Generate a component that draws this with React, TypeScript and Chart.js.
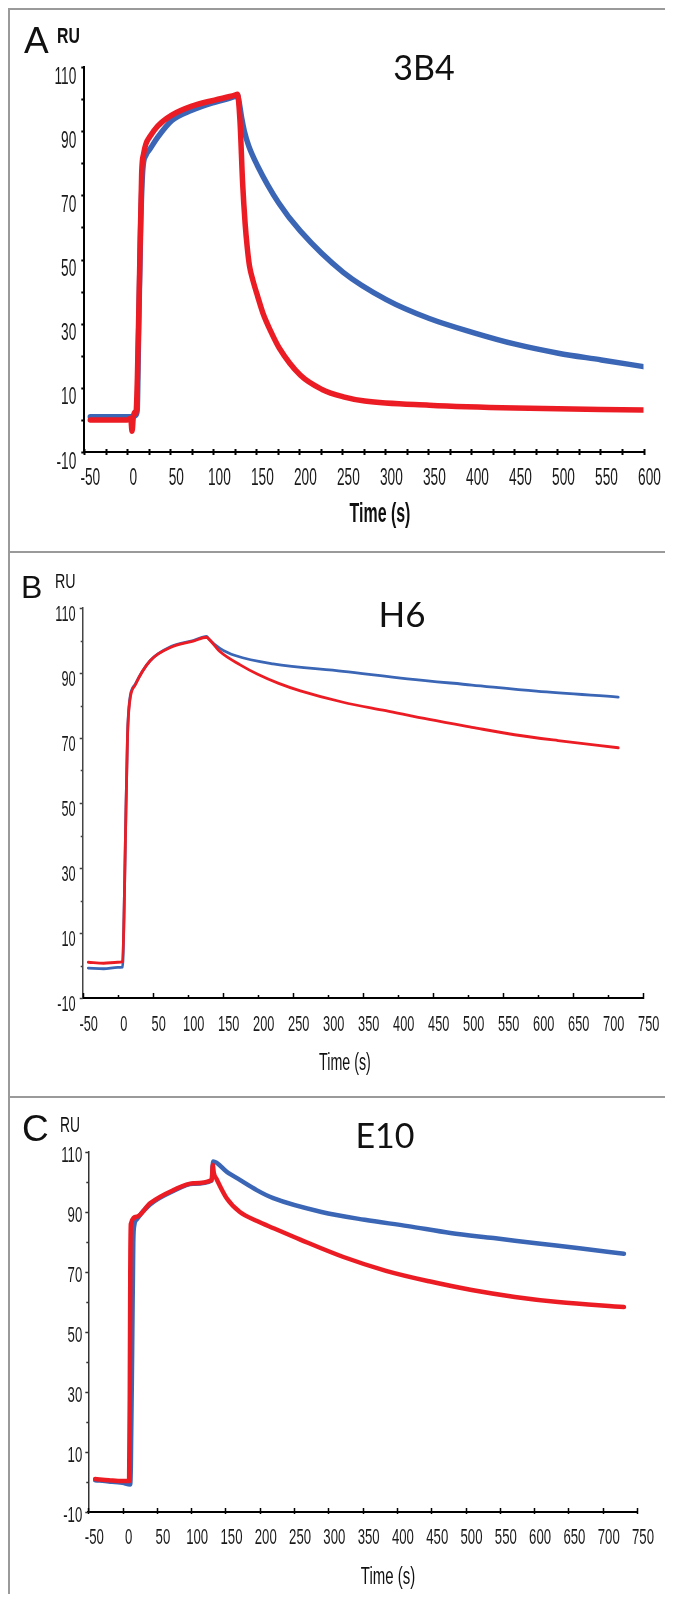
import React, { useEffect, useRef } from "react";
import { Chart, registerables } from "chart.js";

Chart.register(...registerables);

// ---------- Panel A: 3B4 ----------
const A_RED_T = [-43, -20, 0, 4, 5.5, 7, 9, 10, 11.7, 14.2, 16.7, 19, 21.6, 26.5, 35, 51.6, 75, 101.5, 125, 128, 131, 134, 137, 139.5, 142, 146, 151.4, 158, 166.4, 176.4, 201.3, 226.3, 251.2, 276, 351, 451, 600];
const A_RED_RU = [0, 0, 0, 0.5, -3.5, 1, 2.5, 2, 13, 45, 77, 83, 86, 88.4, 91.5, 95, 97.8, 99.7, 101.2, 101.5, 93, 74, 61, 53.5, 48, 43.5, 38.6, 33, 27.8, 22.5, 13.9, 9.5, 7.2, 5.9, 4.6, 3.7, 3.1];
const A_BLUE_T = [-43, -20, 0, 8, 10, 11.5, 13, 15.5, 18, 21.6, 26.5, 35, 51.6, 75, 101.5, 125, 128, 130, 133, 136, 141, 151, 176, 201, 251, 301, 351, 401, 451, 501, 551, 600];
const A_BLUE_RU = [1, 1, 1, 1.2, 1.5, 3, 25, 60, 78, 82.5, 84.5, 88, 93.3, 96.5, 99, 100.8, 101.2, 99, 94, 90, 85.5, 79.4, 67.6, 58.9, 46, 37.5, 31.6, 27.3, 23.6, 20.8, 18.7, 16.6];

// ---------- Panel B: H6 ----------
const B_RED_T = [-42, -20, 0, 7, 9, 11, 14, 17, 25, 46, 77, 108, 127, 130, 146, 175, 200, 230, 261, 322, 383, 445, 506, 567, 629, 715];
const B_RED_RU = [1, 0.7, 1, 1.2, 15, 38.6, 70.4, 81, 86.3, 93.7, 98, 99.8, 101, 100.5, 96.6, 92.5, 89.6, 86.8, 84.5, 81, 78.4, 75.7, 73.3, 71, 69.2, 67];
const B_BLUE_T = [-42, -20, 0, 7, 9, 11, 14, 17, 25, 46, 77, 108, 127, 130, 146, 169, 222, 322, 414, 506, 598, 715];
const B_BLUE_RU = [-0.8, -1, -0.6, -0.5, 15, 39, 71, 81.5, 86.5, 93.7, 98.2, 100, 101.3, 100.5, 97.6, 95.3, 92.8, 90.5, 88.2, 86.3, 84.4, 82.6];

// ---------- Panel C: E10 ----------
const C_RED_T = [-40, -20, 0, 9.5, 10.5, 11.2, 12, 20.5, 40, 74, 103, 130, 131.5, 133, 137, 152, 171, 196, 220, 259, 322, 384, 447, 509, 572, 635, 731];
const C_RED_RU = [1, 0.6, 0.3, 0.3, 30, 70, 86, 88.4, 92.9, 97.3, 99.6, 100.7, 105.7, 103, 101, 94.5, 90, 87, 84.6, 80.8, 75, 70.4, 66.9, 64, 61.7, 60, 58.3];
const C_BLUE_T = [-40, -20, 0, 11, 12, 14, 15.6, 17, 20.5, 40, 74, 103, 130, 132, 152, 171, 195.5, 219.7, 290, 353, 416, 478, 541, 603, 666, 731];
const C_BLUE_RU = [0.6, 0.2, -0.3, -0.8, 5, 45, 80, 85.5, 87.5, 92.5, 97, 99.4, 100.5, 106.8, 103.4, 100.7, 97.3, 94.6, 90, 87.4, 85.3, 83, 81.3, 79.6, 77.9, 76.1];

// ---------- Tick labels ----------
const X_TICKS_A = [-50, 0, 50, 100, 150, 200, 250, 300, 350, 400, 450, 500, 550, 600];
const X_TICKS_BC = [-50, 0, 50, 100, 150, 200, 250, 300, 350, 400, 450, 500, 550, 600, 650, 700, 750];
const Y_TICKS = [-10, 10, 30, 50, 70, 90, 110];

const BLUE = "#3b66b6";
const RED = "#ec1c24";
const ARIAL = "'Liberation Sans', Arial, sans-serif";
const CALIBRI = "Lato, 'Open Sans', sans-serif";
const W = 665;

const zip = (t: number[], v: number[]) => t.map((x, i) => ({ x, y: v[i] }));

// Draws axis tick marks and (horizontally condensed) tick labels from the chart's scales.
const axisDecor = {
  id: "axisDecor",
  afterDatasetsDraw(chart: any, _args: any, o: any) {
    const { ctx, chartArea, scales } = chart;
    const xs = scales.x;
    const ys = scales.y;
    ctx.save();
    ctx.lineCap = "butt";
    ctx.strokeStyle = o.xColor;
    ctx.lineWidth = o.xWidth;
    ctx.beginPath();
    for (let v = xs.min; v <= xs.max + 1e-6; v += o.xStep) {
      const p = Math.round(xs.getPixelForValue(v)) + 0.5;
      const k = (v - xs.min) / o.xMajorStep;
      const major = Math.abs(k - Math.round(k)) < 1e-6;
      ctx.moveTo(p, chartArea.bottom - (major ? o.xUpMajor : o.xUp));
      ctx.lineTo(p, chartArea.bottom + o.xDown);
    }
    ctx.stroke();
    ctx.strokeStyle = o.yColor;
    ctx.lineWidth = o.yWidth;
    ctx.beginPath();
    for (let v = ys.min; v <= ys.max + 1e-6; v += o.yStep) {
      const p = Math.round(ys.getPixelForValue(v)) + 0.5;
      const k = (v - ys.min) / o.yMajorStep;
      const major = Math.abs(k - Math.round(k)) < 1e-6;
      ctx.moveTo(chartArea.left - (major ? o.yLeftMajor : o.yLeft), p);
      ctx.lineTo(chartArea.left + o.yRight, p);
    }
    ctx.stroke();

    // tick labels
    ctx.fillStyle = "#1a1a1a";
    ctx.font = `${o.labelSize}px ${ARIAL}`;
    ctx.textBaseline = "middle";
    ctx.textAlign = "center";
    for (const v of o.xLabels as number[]) {
      const x = xs.getPixelForValue(v) + o.xLabelOffset;
      const y = chartArea.bottom + o.xLabelDy;
      ctx.save();
      ctx.translate(x, y);
      ctx.scale(o.labelScale, 1);
      ctx.fillText(String(v), 0, 0);
      ctx.restore();
    }
    ctx.textAlign = "right";
    for (const v of o.yLabels as number[]) {
      const x = chartArea.left - o.yLabelPad;
      const y = ys.getPixelForValue(v) + o.yLabelDy;
      ctx.save();
      ctx.translate(x, y);
      ctx.scale(o.labelScale, 1);
      ctx.fillText(String(v), 0, 0);
      ctx.restore();
    }
    ctx.restore();
  },
};

type Cfg = {
  top: number;
  height: number;
  plotLeft: number;
  plotRight: number;
  plotTop: number;
  plotBottom: number;
  xMax: number;
  xTicks: number[];
  redT: number[];
  redV: number[];
  blueT: number[];
  blueV: number[];
  redWidth: number;
  blueWidth: number;
  xBorder: { color: string; width: number };
  yBorder: { color: string; width: number };
  marks: any;
};

function Panel({ cfg }: { cfg: Cfg }) {
  const ref = useRef<HTMLCanvasElement>(null);
  useEffect(() => {
    const chart = new Chart(ref.current as HTMLCanvasElement, {
      type: "line",
      data: {
        datasets: [
          {
            label: "red",
            data: zip(cfg.redT, cfg.redV),
            borderColor: RED,
            borderWidth: cfg.redWidth,
            pointRadius: 0,
            cubicInterpolationMode: "monotone",
            borderJoinStyle: "round",
            borderCapStyle: "round",
            fill: false,
          },
          {
            label: "blue",
            data: zip(cfg.blueT, cfg.blueV),
            borderColor: BLUE,
            borderWidth: cfg.blueWidth,
            pointRadius: 0,
            cubicInterpolationMode: "monotone",
            borderJoinStyle: "round",
            borderCapStyle: "round",
            fill: false,
          },
        ],
      },
      options: {
        animation: false,
        responsive: false,
        events: [],
        layout: {
          padding: { left: 0, top: cfg.plotTop, right: W - cfg.plotRight, bottom: 0 },
        },
        plugins: {
          legend: { display: false },
          tooltip: { enabled: false },
          title: { display: false },
          axisDecor: { ...cfg.marks, xLabels: cfg.xTicks, yLabels: Y_TICKS },
        } as any,
        scales: {
          x: {
            type: "linear",
            min: -50,
            max: cfg.xMax,
            afterBuildTicks: (s: any) => {
              s.ticks = cfg.xTicks.map((v) => ({ value: v }));
            },
            afterFit: (s: any) => {
              s.height = cfg.height - cfg.plotBottom;
            },
            grid: { display: false },
            border: { display: true, color: cfg.xBorder.color, width: cfg.xBorder.width },
            ticks: { display: false },
          },
          y: {
            type: "linear",
            min: -10,
            max: 110,
            afterBuildTicks: (s: any) => {
              s.ticks = Y_TICKS.map((v) => ({ value: v }));
            },
            afterFit: (s: any) => {
              s.width = cfg.plotLeft;
            },
            grid: { display: false },
            border: { display: true, color: cfg.yBorder.color, width: cfg.yBorder.width },
            ticks: { display: false },
          },
        },
      },
      plugins: [axisDecor],
    } as any);
    return () => chart.destroy();
  }, []);
  return (
    <canvas
      ref={ref}
      width={W}
      height={cfg.height}
      style={{ position: "absolute", left: 0, top: cfg.top, display: "block" }}
    />
  );
}

const PANEL_A: Cfg = {
  top: 0,
  height: 544,
  plotLeft: 76.3,
  plotRight: 635.5,
  plotTop: 59,
  plotBottom: 444,
  xMax: 600,
  xTicks: X_TICKS_A,
  redT: A_RED_T,
  redV: A_RED_RU,
  blueT: A_BLUE_T,
  blueV: A_BLUE_RU,
  redWidth: 5.5,
  blueWidth: 5.5,
  xBorder: { color: "#000", width: 2 },
  yBorder: { color: "#000", width: 2 },
  marks: {
    xStep: 25, xMajorStep: 50, xUp: 3, xUpMajor: 3, xDown: 3, xColor: "#000", xWidth: 2,
    yStep: 10, yMajorStep: 20, yLeft: 3, yLeftMajor: 3, yRight: 0, yColor: "#000", yWidth: 2,
    labelSize: 24, labelScale: 0.57, xLabelOffset: 6, xLabelDy: 26, yLabelPad: 8, yLabelDy: 10,
  },
};

const PANEL_B: Cfg = {
  top: 544,
  height: 545,
  plotLeft: 74.7,
  plotRight: 634.7,
  plotTop: 56,
  plotBottom: 446,
  xMax: 750,
  xTicks: X_TICKS_BC,
  redT: B_RED_T,
  redV: B_RED_RU,
  blueT: B_BLUE_T,
  blueV: B_BLUE_RU,
  redWidth: 2.8,
  blueWidth: 2.8,
  xBorder: { color: "#000", width: 2 },
  yBorder: { color: "#444", width: 1.5 },
  marks: {
    xStep: 50, xMajorStep: 100, xUp: 3, xUpMajor: 5, xDown: 1, xColor: "#000", xWidth: 1.5,
    yStep: 10, yMajorStep: 20, yLeft: 2, yLeftMajor: 3, yRight: 0, yColor: "#444", yWidth: 1.5,
    labelSize: 22, labelScale: 0.58, xLabelOffset: 6, xLabelDy: 27, yLabelPad: 7, yLabelDy: 7,
  },
};

const PANEL_C: Cfg = {
  top: 1089,
  height: 497,
  plotLeft: 80.3,
  plotRight: 629,
  plotTop: 55,
  plotBottom: 415,
  xMax: 750,
  xTicks: X_TICKS_BC,
  redT: C_RED_T,
  redV: C_RED_RU,
  blueT: C_BLUE_T,
  blueV: C_BLUE_RU,
  redWidth: 4.5,
  blueWidth: 4.5,
  xBorder: { color: "#000", width: 2 },
  yBorder: { color: "#333", width: 1.5 },
  marks: {
    xStep: 50, xMajorStep: 100, xUp: 4, xUpMajor: 4, xDown: 2, xColor: "#000", xWidth: 1.5,
    yStep: 10, yMajorStep: 20, yLeft: 2, yLeftMajor: 3, yRight: 0, yColor: "#333", yWidth: 1.5,
    labelSize: 22, labelScale: 0.6, xLabelOffset: 6, xLabelDy: 26, yLabelPad: 6, yLabelDy: 4,
  },
};

function Txt(props: {
  text: string;
  left: number;
  top: number;
  size: number;
  family?: string;
  bold?: boolean;
  sx?: number;
  center?: boolean;
}) {
  const { text, left, top, size, family = ARIAL, bold = false, sx = 1, center = false } = props;
  return (
    <div
      style={{
        position: "absolute",
        left,
        top,
        fontFamily: family,
        fontSize: size,
        fontWeight: bold ? 700 : 400,
        lineHeight: 1,
        whiteSpace: "nowrap",
        color: "#111",
        transformOrigin: center ? "50% 50%" : "0 0",
        transform: center ? `translateX(-50%) scaleX(${sx})` : `scaleX(${sx})`,
      }}
    >
      {text}
    </div>
  );
}

export default function App() {
  const line = "#9a9a9a";
  return (
    <div style={{ position: "relative", width: W, height: 1586, background: "#fff", overflow: "hidden" }}>
      <Panel cfg={PANEL_A} />
      <Panel cfg={PANEL_B} />
      <Panel cfg={PANEL_C} />

      {/* panel frames */}
      <div style={{ position: "absolute", left: 0, top: 0, width: W, height: 2, background: line }} />
      <div style={{ position: "absolute", left: 0, top: 543, width: W, height: 2, background: line }} />
      <div style={{ position: "absolute", left: 0, top: 1088, width: W, height: 2, background: line }} />
      <div style={{ position: "absolute", left: 0, top: 0, width: 2, height: 1586, background: line }} />

      {/* Panel A labels */}
      <Txt text="A" left={16} top={14.3} size={37} />
      <Txt text="RU" left={49} top={17} size={22} bold sx={0.72} />
      <Txt text="3B4" left={416} top={42} size={34} family={CALIBRI} center />
      <Txt text="Time (s)" left={372} top={491.5} size={27} bold sx={0.59} center />

      {/* Panel B labels */}
      <Txt text="B" left={13} top={563} size={32} />
      <Txt text="RU" left={47} top={562} size={21} sx={0.68} />
      <Txt text="H6" left={394} top={587.5} size={35} family={CALIBRI} center />
      <Txt text="Time (s)" left={337} top={1043} size={23} sx={0.62} center />

      {/* Panel C labels */}
      <Txt text="C" left={14} top={1102} size={37} />
      <Txt text="RU" left={52} top={1106} size={22} sx={0.63} />
      <Txt text="E10" left={377} top={1110} size={34} family={CALIBRI} center />
      <Txt text="Time (s)" left={380} top={1557} size={23} sx={0.65} center />
    </div>
  );
}
